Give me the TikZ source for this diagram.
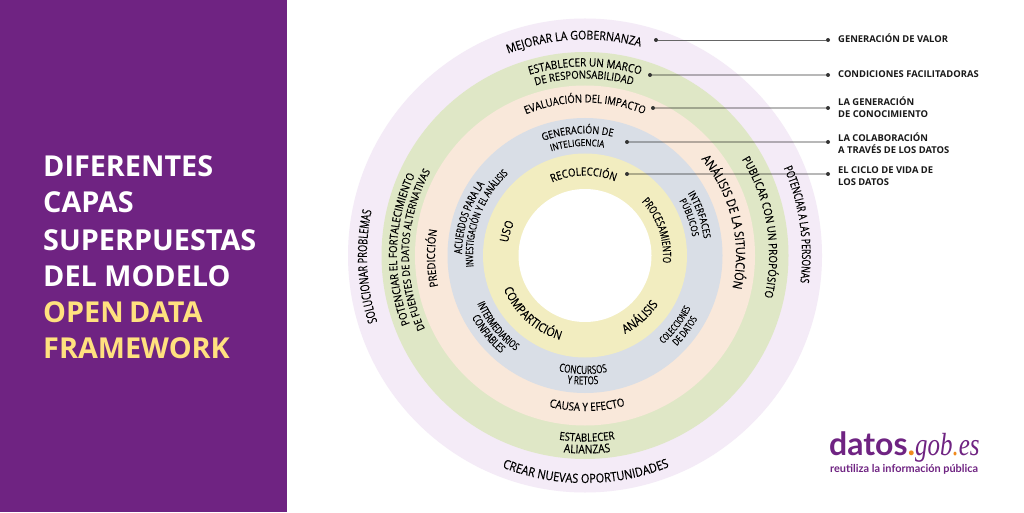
\documentclass[tikz,border=0pt]{standalone}
\usepackage{fontspec}
\usetikzlibrary{decorations.text,calc}
\setmainfont{Open Sans}
\newfontfamily\ringfont[FakeStretch=0.86,FakeBold=0.25]{Open Sans}
\newfontfamily\narrowfont[FakeStretch=0.72,FakeBold=0.25]{Open Sans}
\newfontfamily\boldfont{Open Sans}
\newfontfamily\logofont{Lato}
\newfontfamily\logoserif[FakeStretch=0.78]{Liberation Serif}
\definecolor{panel}{HTML}{6F2382}
\definecolor{titley}{HTML}{FFE17F}
\definecolor{ringa}{HTML}{F4EBF7}
\definecolor{ringb}{HTML}{DFE7C6}
\definecolor{ringc}{HTML}{F9E8DA}
\definecolor{ringd}{HTML}{D9DEE6}
\definecolor{ringe}{HTML}{F2EDC0}
\definecolor{dotc}{HTML}{333333}
\definecolor{logoo}{HTML}{F08A1D}
\tikzset{
 ring/.style={circle,inner sep=0pt,minimum size=#1*2pt},
 dotn/.style={circle,fill=dotc,inner sep=0pt,minimum size=4pt},
 leaddark/.style={draw=black!60,line width=.8pt},
 leadsoft/.style={draw=black,draw opacity=.28,line width=1.6pt},
 title/.style={anchor=base west,inner sep=0pt,font=\boldfont\bfseries\fontsize{28.8}{28.8}\selectfont},
 side/.style={anchor=base west,inner sep=0pt,font=\boldfont\bfseries\fontsize{9.4}{9.4}\selectfont,text=black!90},
}
\newcommand\arccw[5]{\path[decorate,decoration={text along path,text align=center,
  text={|#3\fontsize{#4}{#4}\selectfont|#5}}]
  ($(585pt,255.5pt)+(#2+70:#1pt)$) arc[start angle=#2+70,end angle=#2-70,radius=#1pt];}
\newcommand\arcccw[5]{\path[decorate,decoration={text along path,text align=center,
  text={|#3\fontsize{#4}{#4}\selectfont|#5}}]
  ($(585pt,255.5pt)+(#2-70:#1pt)$) arc[start angle=#2-70,end angle=#2+70,radius=#1pt];}
\begin{document}
\begin{tikzpicture}[x=1pt,y=1pt]
\useasboundingbox (0,0) rectangle (1024,512);
\fill[white] (0,0) rectangle (1024,512);
\fill[panel] (0,0) rectangle (287,512);
% title
\node[title,text=white] (t1) at (43,335) {DIFERENTES};
\node[title,text=white] (t2) at (43,299) {CAPAS};
\node[title,text=white] (t3) at (43,262) {SUPERPUESTAS};
\node[title,text=white] (t4) at (43,226) {DEL MODELO};
\node[title,text=titley] (t5) at (43,190) {OPEN\hspace{-2pt} DATA};
\node[title,text=titley] (t6) at (43,154) {FRAMEWORK};
% rings
\node[ring=237,fill=ringa] (ra) at (585,256.5) {};
\node[ring=203.5,fill=ringb] (rb) at (585,256.5) {};
\node[ring=170,fill=ringc] (rc) at (585,256.5) {};
\node[ring=137.5,fill=ringd] (rd) at (585,256.5) {};
\node[ring=102,fill=ringe] (re) at (585,256.5) {};
\node[ring=66.5,fill=white] (rf) at (585,256.5) {};
% ring texts
\begin{scope}[yshift=1pt]
\arccw{216}{93}{\ringfont}{12.3}{MEJORAR LA GOBERNANZA}
\arccw{217}{8.3}{\narrowfont}{12}{POTENCIAR A LAS PERSONAS}
\arccw{218}{182.9}{\narrowfont}{12.7}{SOLUCIONAR PROBLEMAS}
\arcccw{227.5}{270.2}{\ringfont}{12.7}{CREAR NUEVAS OPORTUNIDADES}
\arccw{189}{90}{\ringfont}{11.5}{ESTABLECER UN MARCO}
\arccw{177}{90.3}{\ringfont}{11}{DE RESPONSABILIDAD}
\arccw{184}{9.2}{\ringfont}{11.4}{PUBLICAR CON UN PROPÓSITO}
\arccw{188}{178}{\ringfont}{11.2}{POTENCIAR EL FORTALECIMIENTO}
\arccw{176}{178}{\ringfont}{10.6}{DE FUENTES DE DATOS ALTERNATIVAS}
\arcccw{186}{270.6}{\ringfont}{11.2}{ESTABLECER}
\arcccw{198}{270.6}{\ringfont}{12}{ALIANZAS}
\arccw{153}{90}{\ringfont}{11}{EVALUACIÓN DEL IMPACTO}
\arccw{151}{13.6}{\ringfont}{12.7}{ANÁLISIS DE LA SITUACIÓN}
\arccw{150}{181}{\ringfont}{11.3}{PREDICCIÓN}
\arcccw{155.5}{270.8}{\ringfont}{11.4}{CAUSA Y EFECTO}
\arccw{122}{93.5}{\ringfont}{10.5}{GENERACIÓN DE}
\arccw{109.5}{94}{\ringfont}{9.5}{INTELIGENCIA}
\arccw{120}{19.6}{\ringfont}{10}{INTERFACES}
\arccw{109}{20}{\ringfont}{9.5}{PÚBLICOS}
\arccw{123}{162}{\narrowfont}{11}{ACUERDOS PARA LA}
\arccw{112}{159.5}{\narrowfont}{10.2}{INVESTIGACIÓN Y EL ANÁLISIS}
\arcccw{118}{219}{\narrowfont}{10.6}{INTERMEDIARIOS}
\arcccw{129}{219}{\narrowfont}{11}{CONFIABLES}
\arcccw{118.5}{269}{\narrowfont}{11.3}{CONCURSOS}
\arcccw{129}{269}{\narrowfont}{11.3}{Y RETOS}
\arcccw{118}{322.5}{\narrowfont}{9.5}{COLECCIONES}
\arcccw{129}{323}{\narrowfont}{10}{DE DATOS}
\arccw{80}{91}{\ringfont}{11.2}{RECOLECCIÓN}
\arccw{78}{19}{\narrowfont}{11.3}{PROCESAMIENTO}
\arcccw{88}{311.7}{\ringfont}{12.5}{ANÁLISIS}
\arcccw{88}{228}{\ringfont}{12.3}{COMPARTICIÓN}
\arccw{78}{162.8}{\ringfont}{12}{USO}
\end{scope}
% leaders
\node[dotn] (a1) at (656,472) {}; \node[dotn] (b1) at (828,472) {};
\node[dotn] (a2) at (650,437) {}; \node[dotn] (b2) at (828,437) {};
\node[dotn] (a3) at (653,404) {}; \node[dotn] (b3) at (828,404) {};
\node[dotn] (a4) at (627,370) {}; \node[dotn] (b4) at (828,370) {};
\node[dotn] (a5) at (627,338) {}; \node[dotn] (b5) at (828,338) {};
\draw[leaddark] (a1) -- (b1);
\draw[leadsoft] (a2) -- (b2);
\draw[leadsoft] (a3) -- (b3);
\draw[leadsoft] (a4) -- (b4);
\draw[leadsoft] (a5) -- (b5);
% side labels
\node[side] (l1) at (838,469) {GENERACIÓN DE VALOR};
\node[side] (l2) at (838,434) {CONDICIONES FACILITADORAS};
\node[side] (l3a) at (838,406) {LA GENERACIÓN};
\node[side] (l3b) at (838,394) {DE CONOCIMIENTO};
\node[side] (l4a) at (838,370) {LA COLABORACIÓN};
\node[side] (l4b) at (838,358) {A TRAVÉS DE LOS DATOS};
\node[side] (l5a) at (838,338) {EL CICLO DE VIDA DE};
\node[side] (l5b) at (838,326) {LOS DATOS};
% logo
\node[anchor=base west,inner sep=0pt,text=panel] (logo) at (829,57) {\logofont\bfseries\fontsize{32}{32}\selectfont datos\textcolor{logoo}{.}\logoserif\itshape\mdseries gob\textcolor{logoo}{.}es};
\node[anchor=base west,inner sep=0pt,text=panel] (sub) at (830,40) {\logofont\bfseries\fontsize{10.9}{10.9}\selectfont reutiliza la información pública};
\end{tikzpicture}
\end{document}
